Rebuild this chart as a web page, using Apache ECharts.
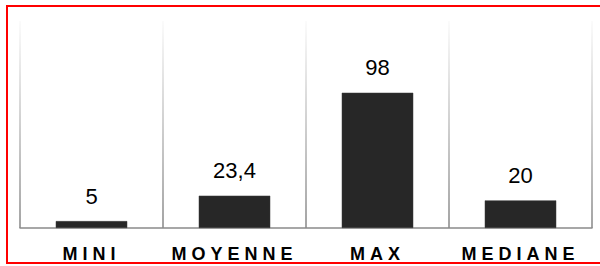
<!DOCTYPE html>
<html>
<head>
<meta charset="utf-8">
<script src="https://cdn.jsdelivr.net/npm/echarts@6/dist/echarts.min.js"></script>
<style>
html,body{margin:0;padding:0;background:#fff;}
#chart{width:600px;height:266px;}
</style>
</head>
<body>
<div id="chart"></div>
<script>
const categories = ['MINI', 'MOYENNE', 'MAX', 'MEDIANE'];
const values = [5, 23.4, 98, 20];
const yMin = 0;
const yMax = 150;

const chart = echarts.init(document.getElementById('chart'), null, {renderer: 'svg'});

const gridGradient = new echarts.graphic.LinearGradient(0, 21, 0, 228, [
  {offset: 0, color: '#fafafa'},
  {offset: 1, color: '#858585'}
], true);

chart.setOption({
  animation: false,
  backgroundColor: '#ffffff',
  grid: {left: 20, right: 8, top: 21, bottom: 38, containLabel: false},
  xAxis: {
    type: 'category',
    data: categories,
    axisLine: {show: true, lineStyle: {color: '#8a8a8a', width: 1.5}},
    axisTick: {show: false},
    splitLine: {show: true, lineStyle: {color: gridGradient, width: 1.5}},
    axisLabel: {
      margin: 17,
      color: '#000',
      fontFamily: 'Liberation Sans, Arial, sans-serif',
      fontWeight: 'bold',
      fontSize: 18
    }
  },
  yAxis: {
    type: 'value',
    min: yMin,
    max: yMax,
    show: false,
    splitLine: {show: false}
  },
  series: [{
    type: 'bar',
    data: values,
    barWidth: '50%',
    itemStyle: {color: '#272727', borderColor: '#3a3a3a', borderWidth: 0.5},
    label: {
      show: true,
      position: 'top',
      distance: 14,
      color: '#000',
      fontFamily: 'Liberation Sans, Arial, sans-serif',
      fontSize: 22,
      formatter: p => String(p.value).replace('.', ',')
    }
  }],
  graphic: [{
    type: 'rect',
    shape: {x: 7, y: 6, width: 600, height: 257},
    style: {fill: 'none', stroke: '#ff0000', lineWidth: 2},
    silent: true,
    z: 100
  }]
});

function spaceLabels() {
  const texts = document.querySelectorAll('#chart svg text');
  texts.forEach(t => {
    if (categories.indexOf(t.textContent.trim()) >= 0) {
      t.style.letterSpacing = '5px';
    }
  });
}
spaceLabels();
chart.on('finished', spaceLabels);
setTimeout(spaceLabels, 50);
</script>
</body>
</html>
